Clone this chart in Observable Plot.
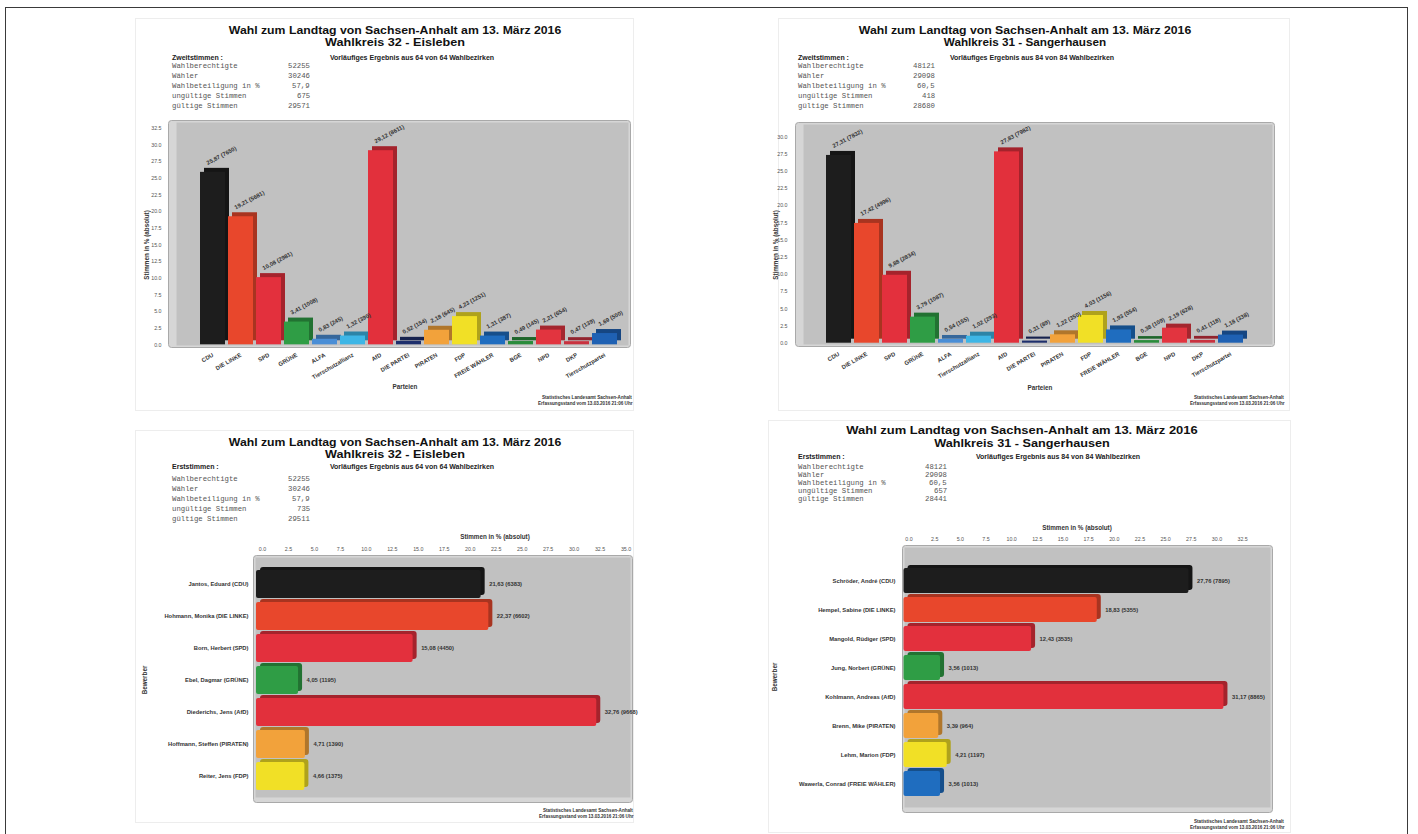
<!DOCTYPE html>
<html><head><meta charset="utf-8">
<script src="https://cdn.jsdelivr.net/npm/d3@7"></script>
<script src="https://cdn.jsdelivr.net/npm/@observablehq/plot@0.6"></script>
<style>
html,body{margin:0;padding:0;background:#fff;}
body{width:1418px;height:834px;overflow:hidden;position:relative;font-family:"Liberation Sans",sans-serif;}
.outer{position:absolute;left:5px;top:7px;width:1403px;height:840px;border:1.5px solid #3a3a3a;box-sizing:border-box;}
.panel{position:absolute;border:1px solid #ededed;box-sizing:border-box;}
.t{position:absolute;white-space:nowrap;font-weight:bold;color:#111;font-family:"Liberation Sans",sans-serif;line-height:1;transform-origin:center center;}
.sub{position:absolute;white-space:nowrap;font-weight:bold;color:#222;font-size:7px;line-height:1;}
.st{position:absolute;white-space:nowrap;font-family:"Liberation Mono",monospace;font-size:7.3px;color:#555;line-height:1;}
.foot{position:absolute;white-space:nowrap;font-size:4.6px;color:#333;font-weight:bold;line-height:1;text-align:right;}
.ax{position:absolute;white-space:nowrap;font-size:6.3px;font-weight:bold;color:#333;line-height:1;}
.chart{position:absolute;}
</style>
</head><body>
<div class="outer"></div>
<script>
// ---------------- data ----------------
const title1 = "Wahl zum Landtag von Sachsen-Anhalt am 13. März 2016";
const districtEisleben = "Wahlkreis 32 - Eisleben";
const districtSanger = "Wahlkreis 31 - Sangerhausen";
const statLabels = ["Wahlberechtigte", "Wähler", "Wahlbeteiligung in %", "ungültige Stimmen", "gültige Stimmen"];
const statsZweitEisleben = ["52255", "30246", "57,9", "675", "29571"];
const statsZweitSanger = ["48121", "29098", "60,5", "418", "28680"];
const statsErstEisleben = ["52255", "30246", "57,9", "735", "29511"];
const statsErstSanger = ["48121", "29098", "60,5", "657", "28441"];

const parties = ["CDU", "DIE LINKE", "SPD", "GRÜNE", "ALFA", "Tierschutzallianz", "AfD", "DIE PARTEI",
  "PIRATEN", "FDP", "FREIE WÄHLER", "BGE", "NPD", "DKP", "Tierschutzpartei"];
const partyColors = ["#1d1d1d", "#e8472c", "#e3303d", "#2f9d45", "#4a8ed6", "#3db6e6", "#e2303c", "#1e2f6c",
  "#f2a23b", "#f1e026", "#1f6dbf", "#2a8c3b", "#e2343f", "#c9323f", "#1f61b3"];
const zweitEislebenPct = [25.87, 19.21, 10.08, 3.41, 0.83, 1.32, 29.12, 0.52, 2.18, 4.23, 1.31, 0.49, 2.21, 0.47, 1.69];
const zweitEislebenVotes = [7650, 5681, 2981, 1008, 245, 390, 8611, 154, 645, 1251, 387, 145, 654, 139, 500];
const zweitSangerPct = [27.31, 17.42, 9.88, 3.79, 0.54, 1.02, 27.83, 0.31, 1.22, 4.03, 1.93, 0.38, 2.19, 0.41, 1.18];
const zweitSangerVotes = [7832, 4996, 2834, 1087, 155, 293, 7982, 89, 350, 1156, 554, 109, 628, 118, 338];
const yTicksEisleben = [0, 2.5, 5, 7.5, 10, 12.5, 15, 17.5, 20, 22.5, 25, 27.5, 30, 32.5];
const yTicksSanger = [0, 2.5, 5, 7.5, 10, 12.5, 15, 17.5, 20, 22.5, 25, 27.5, 30];

const candEisleben = ["Jantos, Eduard (CDU)", "Hohmann, Monika (DIE LINKE)", "Born, Herbert (SPD)",
  "Ebel, Dagmar (GRÜNE)", "Diederichs, Jens (AfD)", "Hoffmann, Steffen (PIRATEN)", "Reiter, Jens (FDP)"];
const candEislebenColors = ["#1d1d1d", "#e8472c", "#e3303d", "#2f9d45", "#e2303c", "#f2a23b", "#f1e026"];
const erstEislebenPct = [21.63, 22.37, 15.08, 4.05, 32.76, 4.71, 4.66];
const erstEislebenVotes = [6383, 6602, 4450, 1195, 9668, 1390, 1375];
const xTicksEisleben = [0, 2.5, 5, 7.5, 10, 12.5, 15, 17.5, 20, 22.5, 25, 27.5, 30, 32.5, 35];

const candSanger = ["Schröder, André (CDU)", "Hempel, Sabine (DIE LINKE)", "Mangold, Rüdiger (SPD)",
  "Jung, Norbert (GRÜNE)", "Kohlmann, Andreas (AfD)", "Brenn, Mike (PIRATEN)", "Lehm, Marion (FDP)",
  "Wawerla, Conrad (FREIE WÄHLER)"];
const candSangerColors = ["#1d1d1d", "#e8472c", "#e3303d", "#2f9d45", "#e2303c", "#f2a23b", "#f1e026", "#1f6dbf"];
const erstSangerPct = [27.76, 18.83, 12.43, 3.56, 31.17, 3.39, 4.21, 3.56];
const erstSangerVotes = [7895, 5355, 3535, 1013, 8865, 964, 1197, 1013];
const xTicksSanger = [0, 2.5, 5, 7.5, 10, 12.5, 15, 17.5, 20, 22.5, 25, 27.5, 30, 32.5];

// ---------------- helpers ----------------
const body = document.body;
function el(cls, text, css) {
  const d = document.createElement("div");
  d.className = cls; d.textContent = text;
  Object.assign(d.style, css);
  body.appendChild(d);
  return d;
}
function centered(cls, text, cx, cy, size, targetW) {
  const d = el(cls, text, {left: cx + "px", top: (cy - size / 2) + "px", fontSize: size + "px"});
  const w = d.offsetWidth;
  const s = targetW ? targetW / w : 1;
  d.style.transform = `translateX(-50%) scaleX(${s})`;
  return d;
}
function header(o) {
  el("panel", "", {left: o.box[0] + "px", top: o.box[1] + "px", width: (o.box[2] - o.box[0]) + "px", height: (o.box[3] - o.box[1]) + "px"});
  centered("t", title1, o.cx, o.t1y, 11, o.t1w);
  centered("t", o.district, o.cx, o.t2y, 11, o.t2w);
  el("sub", o.kind, {left: o.sx + "px", top: (o.ky - 3.5) + "px"});
  centered("sub", o.prelim, o.px, o.ky, 7);
  statLabels.forEach((lab, i) => {
    const y = o.sy + i * o.sdy - 3.7;
    el("st", lab, {left: o.sx + "px", top: y + "px"});
    const v = el("st", o.stats[i], {top: y + "px"});
    v.style.left = (o.vx - v.offsetWidth) + "px";
  });
  const f1 = el("foot", "Statistisches Landesamt Sachsen-Anhalt", {top: o.fy + "px"});
  f1.style.left = (o.fx - f1.offsetWidth) + "px";
  const f2 = el("foot", "Erfassungsstand vom 13.03.2016 21:06 Uhr", {top: (o.fy + 6) + "px"});
  f2.style.left = (o.fx - f2.offsetWidth) + "px";
}
function vTitle(text, x, y) {
  const d = el("ax", text, {left: x + "px", top: y + "px"});
  d.style.transform = "translate(-50%,-50%) rotate(-90deg)";
}
function hTitle(text, x, y) {
  const d = el("ax", text, {left: x + "px", top: y + "px"});
  d.style.transform = "translate(-50%,-50%)";
}
const fmtLabel = (v, n) => v.toFixed(2).replace(".", ",") + " (" + n + ")";
const darker = c => d3.color(c).darker(0.9).formatHex();

function place(svg, left, top) {
  const wrap = document.createElement("div");
  wrap.className = "chart";
  wrap.style.left = left + "px"; wrap.style.top = top + "px";
  wrap.appendChild(svg);
  body.appendChild(wrap);
}

function vChart(o) {
  const data = o.cats.map((c, i) => ({c, v: o.pct[i], n: o.votes[i], col: o.colors[i]}));
  return Plot.plot({
    width: o.w, height: o.h,
    marginLeft: o.ml, marginRight: o.mr, marginTop: o.mt, marginBottom: o.mb,
    style: {background: "transparent", fontFamily: "'Liberation Sans', sans-serif", fontSize: "6px", color: "#333", overflow: "visible"},
    x: {type: "band", domain: o.cats, padding: 0.1, insetLeft: o.xil, insetRight: o.xir, label: null},
    y: {domain: [0, o.ymax], insetBottom: o.yib, label: null},
    color: {type: "identity"},
    marks: [
      Plot.frame({fill: "#d6d6d6", stroke: "#a9a9a9", rx: 3}),
      Plot.frame({fill: "#c1c1c1", insetLeft: 8, insetTop: 2, insetRight: 2, insetBottom: 2}),
      Plot.barY(data, {x: "c", y: "v", fill: d => darker(d.col), dx: 4, dy: -4}),
      Plot.barY(data, {x: "c", y: "v", fill: "col"}),
      Plot.text(data, {x: "c", y: "v", text: d => fmtLabel(d.v, d.n), rotate: -28, textAnchor: "start",
        dx: -6, dy: -9, fontSize: 5.8, fontWeight: "bold", fill: "#333"}),
      Plot.axisY({ticks: o.yticks, tickFormat: d3.format(".1f"), tickSize: 0, tickPadding: o.ytp, fontSize: 5.3, color: "#555"}),
      Plot.axisX({tickRotate: -30, tickSize: 0, tickPadding: 7, fontSize: 5.8, fontWeight: "bold", color: "#333"})
    ]
  });
}

function hChart(o) {
  const data = o.cats.map((c, i) => ({c, v: o.pct[i], n: o.votes[i], col: o.colors[i]}));
  return Plot.plot({
    width: o.w, height: o.h,
    marginLeft: o.ml, marginRight: o.mr, marginTop: o.mt, marginBottom: o.mb,
    style: {background: "transparent", fontFamily: "'Liberation Sans', sans-serif", fontSize: "6px", color: "#333", overflow: "visible"},
    y: {type: "band", domain: o.cats, padding: 0.14, insetTop: o.yit, insetBottom: o.yib, label: null},
    x: {domain: [0, o.xmax], insetLeft: o.xil, label: null},
    color: {type: "identity"},
    marks: [
      Plot.frame({fill: "#d6d6d6", stroke: "#a9a9a9", rx: 3}),
      Plot.frame({fill: "#c1c1c1", insetLeft: 2, insetTop: 2, insetRight: 2, insetBottom: 5}),
      Plot.barX(data, {y: "c", x: "v", fill: d => darker(d.col), dx: 4, dy: -3, rx: 3}),
      Plot.barX(data, {y: "c", x: "v", fill: "col", rx: 2}),
      Plot.text(data, {y: "c", x: "v", text: d => fmtLabel(d.v, d.n), textAnchor: "start",
        dx: 8, fontSize: 5.8, fontWeight: "bold", fill: "#333"}),
      Plot.axisX({anchor: "top", ticks: o.xticks, tickFormat: d3.format(".1f"), tickSize: 0, tickPadding: 5, dx: o.xdx, fontSize: 5.3, color: "#555"}),
      Plot.axisY({tickSize: 0, tickPadding: o.ytp, fontSize: 5.8, fontWeight: "bold", color: "#333"})
    ]
  });
}

// ---------------- panel: top-left ----------------
header({box: [135, 18, 634, 411], cx: 395, t1y: 30, t2y: 42, t1w: 333, t2w: 140, district: districtEisleben,
  kind: "Zweitstimmen :", ky: 57, prelim: "Vorläufiges Ergebnis aus 64 von 64 Wahlbezirken", px: 412,
  sx: 172, sy: 67, sdy: 10, vx: 310, stats: statsZweitEisleben, fx: 632, fy: 396});
place(vChart({cats: parties, colors: partyColors, pct: zweitEislebenPct, votes: zweitEislebenVotes,
  w: 500, h: 298, ml: 33, mr: 5, mt: 8, mb: 63, xil: 25, xir: 5, ymax: 33.65, yib: 2.7,
  yticks: yTicksEisleben, ytp: 7}), 135, 112);
vTitle("Stimmen in % (absolut)", 147, 245);
hTitle("Parteien", 405, 387);

// ---------------- panel: top-right ----------------
header({box: [778, 18, 1290, 411], cx: 1025, t1y: 30, t2y: 42, t1w: 333, t2w: 162, district: districtSanger,
  kind: "Zweitstimmen :", ky: 57, prelim: "Vorläufiges Ergebnis aus 84 von 84 Wahlbezirken", px: 1032,
  sx: 798, sy: 67, sdy: 10, vx: 935, stats: statsZweitSanger, fx: 1284, fy: 396});
place(vChart({cats: parties, colors: partyColors, pct: zweitSangerPct, votes: zweitSangerVotes,
  w: 515, h: 296, ml: 30, mr: 6, mt: 8, mb: 64, xil: 25, xir: 24, ymax: 32.1, yib: 3.3,
  yticks: yTicksSanger, ytp: 8}), 765, 114);
vTitle("Stimmen in % (absolut)", 776, 245);
hTitle("Parteien", 1040, 388);

// ---------------- panel: bottom-left ----------------
header({box: [135, 430, 634, 823], cx: 395, t1y: 442, t2y: 454, t1w: 333, t2w: 140, district: districtEisleben,
  kind: "Erststimmen :", ky: 466, prelim: "Vorläufiges Ergebnis aus 64 von 64 Wahlbezirken", px: 412,
  sx: 172, sy: 480, sdy: 10, vx: 310, stats: statsErstEisleben, fx: 633, fy: 809});
place(hChart({cats: candEisleben, colors: candEislebenColors, pct: erstEislebenPct, votes: erstEislebenVotes,
  w: 500, h: 290, ml: 118, mr: 3, mt: 30, mb: 13, yit: 9, yib: 7, xil: 3, xmax: 36.2,
  xticks: xTicksEisleben, xdx: 6, ytp: 5}), 135, 525);
hTitle("Stimmen in % (absolut)", 495, 537);
vTitle("Bewerber", 145, 680);

// ---------------- panel: bottom-right ----------------
header({box: [768, 420, 1291, 833], cx: 1022, t1y: 430, t2y: 443, t1w: 352, t2w: 175, district: districtSanger,
  kind: "Erststimmen :", ky: 456, prelim: "Vorläufiges Ergebnis aus 84 von 84 Wahlbezirken", px: 1058,
  sx: 798, sy: 468, sdy: 8, vx: 947, stats: statsErstSanger, fx: 1284, fy: 820});
place(hChart({cats: candSanger, colors: candSangerColors, pct: erstSangerPct, votes: erstSangerVotes,
  w: 512, h: 305, ml: 132, mr: 10, mt: 30, mb: 8, yit: 15, yib: 8.5, xil: 1.5, xmax: 35.9,
  xticks: xTicksSanger, xdx: 5, ytp: 7}), 770, 515);
hTitle("Stimmen in % (absolut)", 1077, 528);
vTitle("Bewerber", 775, 677);
</script>
</body></html>
